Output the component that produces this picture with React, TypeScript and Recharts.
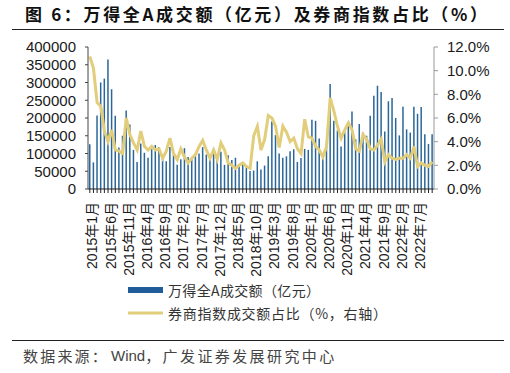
import React from 'react';
import { ComposedChart, Bar, Line, XAxis, YAxis } from 'recharts';

// Monthly categories: 2015年1月 … 2022年11月
const START_YEAR = 2015;
const END_YEAR = 2022;
const LAST_MONTH = 11;

// 万得全A成交额（亿元）
const TURNOVER_2015 = [126000, 75000, 207000, 300000, 311000, 365000, 281000, 206000, 117000, 150000, 221000, 182000];
const TURNOVER_2016 = [110000, 76000, 128000, 102000, 88000, 112000, 124000, 118000, 85000, 78000, 118000, 97000];
const TURNOVER_2017 = [68000, 84000, 115000, 90000, 87000, 92000, 100000, 118000, 97000, 85000, 112000, 90000];
const TURNOVER_2018 = [105000, 68000, 95000, 82000, 88000, 68000, 70000, 62000, 51000, 52000, 78000, 55000];
const TURNOVER_2019 = [66000, 92000, 190000, 152000, 100000, 88000, 92000, 106000, 112000, 76000, 87000, 113000];
const TURNOVER_2020 = [110000, 195000, 192000, 142000, 100000, 130000, 296000, 192000, 165000, 120000, 160000, 185000];
const TURNOVER_2021 = [218000, 140000, 183000, 159000, 150000, 206000, 263000, 291000, 273000, 162000, 247000, 256000];
const TURNOVER_2022 = [200000, 151000, 232000, 168000, 159000, 232000, 212000, 231000, 154000, 127000, 154000];

// 券商指数成交额占比（%，右轴）
const SHARE_2015 = [11.2, 10.2, 7.3, 7.0, 4.9, 4.0, 5.0, 3.3, 3.2, 3.0, 6.0, 4.6];
const SHARE_2016 = [3.9, 3.3, 4.9, 3.6, 3.3, 3.6, 3.3, 3.4, 2.6, 3.2, 4.3, 3.0];
const SHARE_2017 = [2.5, 3.4, 2.7, 2.2, 2.6, 2.9, 3.6, 4.1, 3.3, 2.6, 3.3, 2.5];
const SHARE_2018 = [3.9, 3.3, 2.2, 2.0, 1.75, 2.0, 2.2, 1.9, 1.75, 4.5, 5.3, 3.3];
const SHARE_2019 = [4.2, 6.2, 6.0, 5.3, 3.5, 5.3, 4.8, 4.0, 4.3, 3.4, 3.0, 5.9];
const SHARE_2020 = [4.4, 4.3, 3.6, 3.3, 2.7, 3.6, 7.7, 6.6, 5.3, 4.3, 5.0, 5.6];
const SHARE_2021 = [5.0, 3.4, 3.2, 4.6, 4.2, 3.4, 3.3, 3.7, 4.2, 2.3, 2.9, 2.6];
const SHARE_2022 = [2.5, 2.6, 2.6, 2.9, 2.6, 3.6, 1.9, 2.2, 2.0, 1.9, 2.3];

const TICK_LABELS = [
  '2015年1月', '2015年6月', '2015年11月', '2016年4月', '2016年9月', '2017年2月', '2017年7月',
  '2017年12月', '2018年5月', '2018年10月', '2019年3月', '2019年8月', '2020年1月', '2020年6月',
  '2020年11月', '2021年4月', '2021年9月', '2022年2月', '2022年7月',
];

const LEFT_TICKS = [0, 50000, 100000, 150000, 200000, 250000, 300000, 350000, 400000];
const RIGHT_TICKS = [0, 2, 4, 6, 8, 10, 12];

const TITLE = '图 6：万得全A成交额（亿元）及券商指数占比（%）';
const SERIES_BAR = '万得全A成交额（亿元）';
const SERIES_LINE = '券商指数成交额占比（%，右轴）';
const SOURCE_A = '数据来源：';
const SOURCE_B = 'Wind';
const SOURCE_C = '，广发证券发展研究中心';

const TURNOVER = [
  ...TURNOVER_2015, ...TURNOVER_2016, ...TURNOVER_2017, ...TURNOVER_2018,
  ...TURNOVER_2019, ...TURNOVER_2020, ...TURNOVER_2021, ...TURNOVER_2022,
];
const SHARE = [
  ...SHARE_2015, ...SHARE_2016, ...SHARE_2017, ...SHARE_2018,
  ...SHARE_2019, ...SHARE_2020, ...SHARE_2021, ...SHARE_2022,
];

const MONTHS: string[] = [];
for (let y = START_YEAR; y <= END_YEAR; y++) {
  const last = y === END_YEAR ? LAST_MONTH : 12;
  for (let m = 1; m <= last; m++) MONTHS.push(`${y}年${m}月`);
}

const data = MONTHS.map((month, i) => ({ month, turnover: TURNOVER[i], share: SHARE[i] }));

const AXIS_FONT = '"Liberation Sans", Arial, "Noto Sans CJK SC", sans-serif';
const CJK_FONT = '"Noto Sans CJK SC", "Liberation Sans", sans-serif';

const XTick = (props: any) => {
  const { x, y, payload } = props;
  if (!TICK_LABELS.includes(payload.value)) return <g />;
  const tx = x + 2.5;
  const ty = y + 7;
  return (
    <text
      x={tx}
      y={ty}
      transform={`rotate(-90 ${tx} ${ty})`}
      textAnchor="end"
      dominantBaseline="central"
      fontSize={14}
      fontFamily={AXIS_FONT}
      fill="#1a1a1a"
    >
      {payload.value}
    </text>
  );
};

export default function App() {
  return (
    <div style={{ position: 'absolute', left: 0, top: 0, width: 510, height: 373, background: '#fff', overflow: 'hidden' }}>
      <div style={{ position: 'absolute', left: 0, top: 0 }}>
        <ComposedChart width={510} height={280} data={data} margin={{ top: 47, right: 0, left: 8, bottom: 0 }}>
          <XAxis
            dataKey="month"
            interval={0}
            height={91}
            tick={<XTick />}
            tickSize={4}
            tickLine={{ stroke: '#222' }}
            axisLine={{ stroke: '#222' }}
          />
          <YAxis
            yAxisId="left"
            orientation="left"
            width={80}
            domain={[0, 400000]}
            ticks={LEFT_TICKS}
            interval={0}
            tickSize={3}
            tickMargin={9}
            tick={{ fontSize: 15, fill: '#1a1a1a', fontFamily: AXIS_FONT }}
            tickLine={{ stroke: '#444' }}
            axisLine={{ stroke: '#444' }}
          />
          <YAxis
            yAxisId="right"
            orientation="right"
            width={76}
            domain={[0, 12]}
            ticks={RIGHT_TICKS}
            interval={0}
            tickSize={4}
            tickMargin={9}
            tickFormatter={(v: number) => `${v.toFixed(1)}%`}
            tick={{ fontSize: 15, fill: '#1a1a1a', fontFamily: AXIS_FONT }}
            tickLine={{ stroke: '#999' }}
            axisLine={{ stroke: '#999' }}
          />
          <Bar yAxisId="left" dataKey="turnover" fill="#2a6699" barSize={1.5} isAnimationActive={false} />
          <Line
            yAxisId="right"
            type="linear"
            dataKey="share"
            stroke="#E2CD7A"
            strokeWidth={3}
            dot={false}
            activeDot={false}
            isAnimationActive={false}
          />
        </ComposedChart>
      </div>
      <svg width={510} height={373} style={{ position: 'absolute', left: 0, top: 0, pointerEvents: 'none' }}>
        <text
          x={25}
          y={13}
          dominantBaseline="central"
          fontSize={17}
          fontWeight="bold"
          fontFamily={CJK_FONT}
          fill="#111"
          textLength={462}
          lengthAdjust="spacing"
        >
          {TITLE}
        </text>
        <line x1={12} x2={504} y1={29.5} y2={29.5} stroke="#222" strokeWidth={1} />

        <rect x={128} y={287} width={35} height={6} fill="#1f5c99" />
        <text x={168} y={290} dominantBaseline="central" fontSize={14} fontFamily={CJK_FONT} fill="#333" textLength={152} lengthAdjust="spacing">
          {SERIES_BAR}
        </text>
        <line x1={128} x2={163} y1={313} y2={313} stroke="#E2CD7A" strokeWidth={3} />
        <text x={168} y={313} dominantBaseline="central" fontSize={14} fontFamily={CJK_FONT} fill="#333" textLength={219} lengthAdjust="spacing">
          {SERIES_LINE}
        </text>

        <line x1={12} x2={504} y1={340.5} y2={340.5} stroke="#222" strokeWidth={1} />
        <text x={23} y={355} dominantBaseline="central" fontSize={15} fontFamily={CJK_FONT} fill="#444">
          <tspan letterSpacing={2.2}>{SOURCE_A}</tspan>
          <tspan fontFamily={AXIS_FONT} dx={2}>{SOURCE_B}</tspan>
          <tspan letterSpacing={2.4}>{SOURCE_C}</tspan>
        </text>
      </svg>
    </div>
  );
}
